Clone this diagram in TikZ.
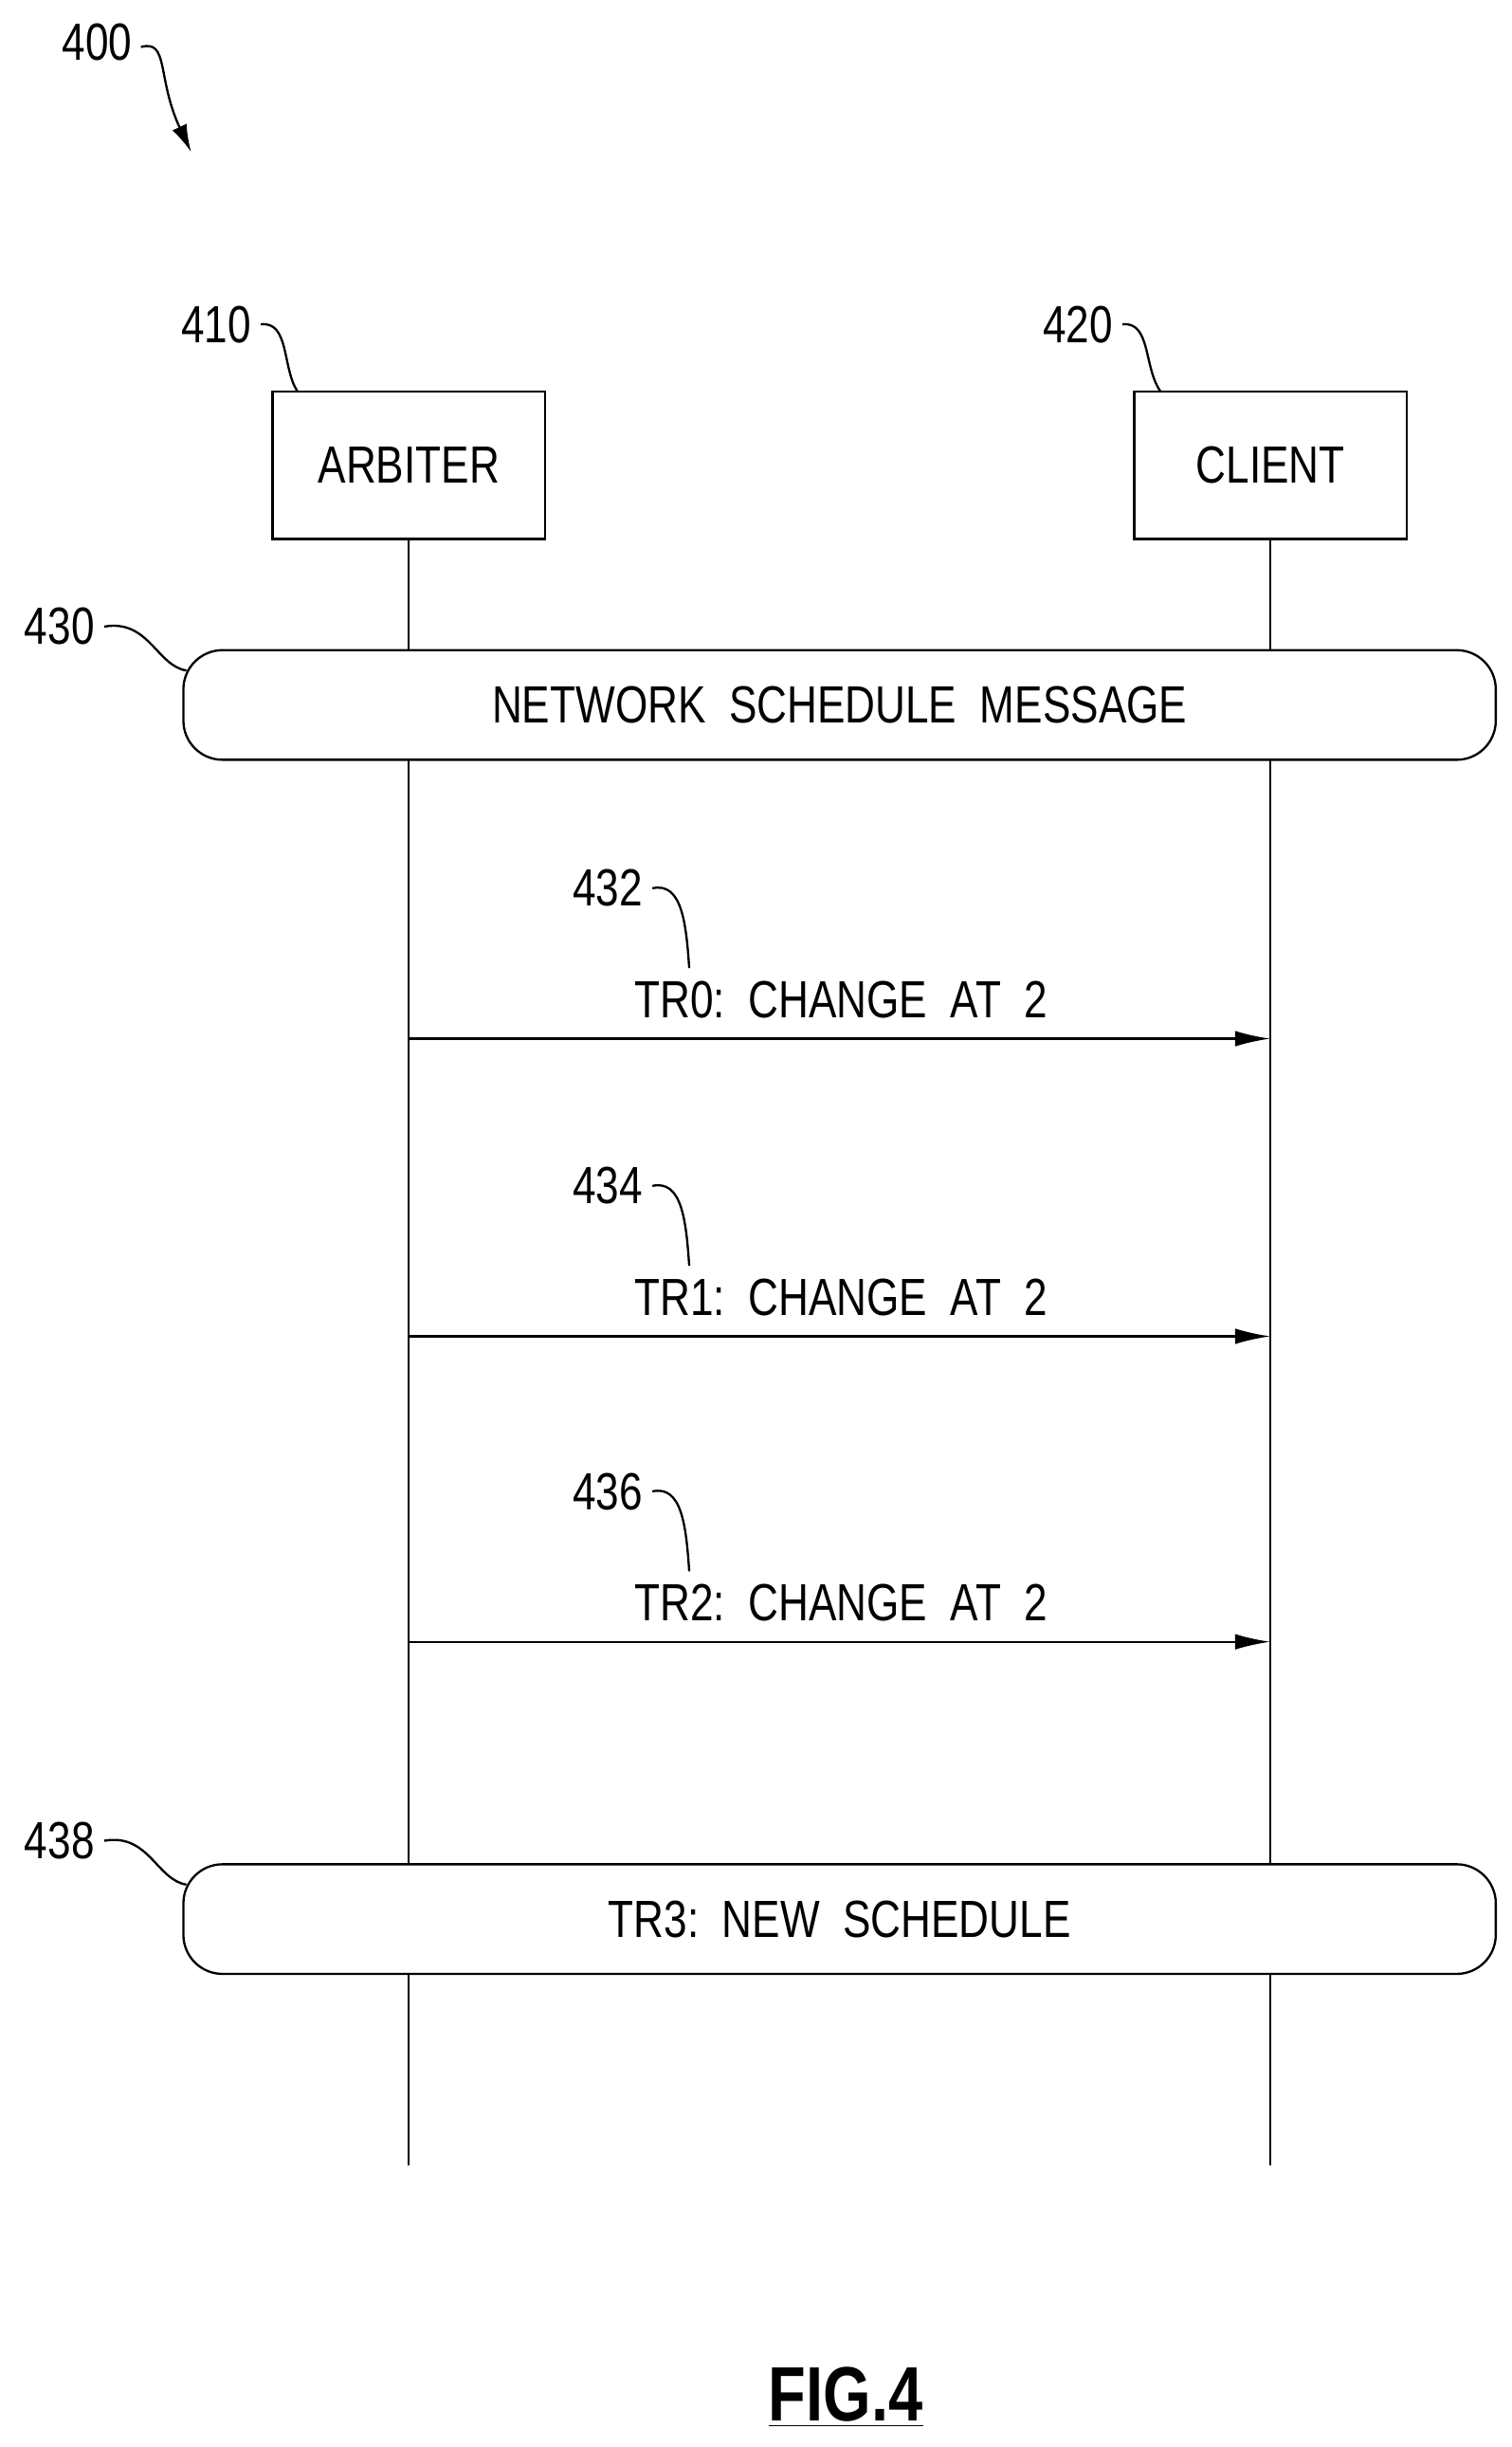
\documentclass[tikz,border=0pt]{standalone}
\usepackage{fontspec}
\setmainfont{Liberation Sans}[FakeStretch=0.8]
\usetikzlibrary{arrows.meta}
\begin{document}
\begin{tikzpicture}[
  x=0.02cm, y=-0.02cm,
  txt/.style={font=\fontsize{19}{22}\selectfont},
  party/.style={draw, thick, minimum width=3.48cm, minimum height=1.88cm, txt},
  lifeline/.style={thick},
  band/.style={draw, thick, rounded corners=0.5cm, minimum width=16.76cm, minimum height=1.4cm, txt},
  msg/.style={thick, -{Latex[length=0.45cm, width=0.2cm]}},
  leader/.style={thick}
]
  \useasboundingbox (0,0) rectangle (965,1562);

  % Figure reference
  \node[txt] (ref400) at (62,27) {400};
  \draw[thick, -{Latex[length=0.35cm, width=0.2cm]}] (90,30) .. controls (108,25) and (100,50) .. (122,97);

  % Parties
  \node[party] (arbiter) at (261,297) {ARBITER};
  \node[party] (client) at (811,297) {CLIENT};
  \node[txt] (ref410) at (138,207) {410};
  \node[txt] (ref420) at (688,207) {420};
  \draw[leader] (ref410.east) .. controls (185,205) and (180,235) .. (190,250);
  \draw[leader] (ref420.east) .. controls (735,205) and (730,235) .. (741,250);

  % Lifelines
  \coordinate (arbiter end) at (261,1382);
  \coordinate (client end) at (811,1382);
  \draw[lifeline] (arbiter) -- (arbiter end);
  \draw[lifeline] (client) -- (client end);

  % Bands across both lifelines
  \node[band, fill=white] (schedule) at (536,450) {NETWORK\ \ SCHEDULE\ \ MESSAGE};
  \node[band, fill=white] (newsched) at (536,1225) {TR3:\ \ NEW\ \ SCHEDULE};
  \node[txt] (ref430) at (38,400) {430};
  \node[txt] (ref438) at (38,1175) {438};
  \draw[leader] (ref430.east) .. controls (95,395) and (100,425) .. (119,428);
  \draw[leader] (ref438.east) .. controls (95,1170) and (100,1200) .. (119,1203);

  % Messages
  \foreach \y/\tr/\num in {663/0/432, 853/1/434, 1048/2/436} {
    \coordinate (from\tr) at (261,\y);
    \coordinate (to\tr) at (811,\y);
    \draw[msg] (from\tr) -- (to\tr);
    \node[txt] (lab\tr) at (537,\y-25) {TR\tr:\ \ CHANGE\ \ AT\ \ 2};
    \node[txt] (ref\num) at (388,\y-96) {\num};
    \draw[leader] (ref\num.east) .. controls (435,\y-100) and (438,\y-75) .. (440,\y-45);
  }

  % Caption
  \node[font=\fontsize{28}{32}\selectfont\bfseries] (caption) at (540,1530) {\underline{FIG.4}};
\end{tikzpicture}
\end{document}
